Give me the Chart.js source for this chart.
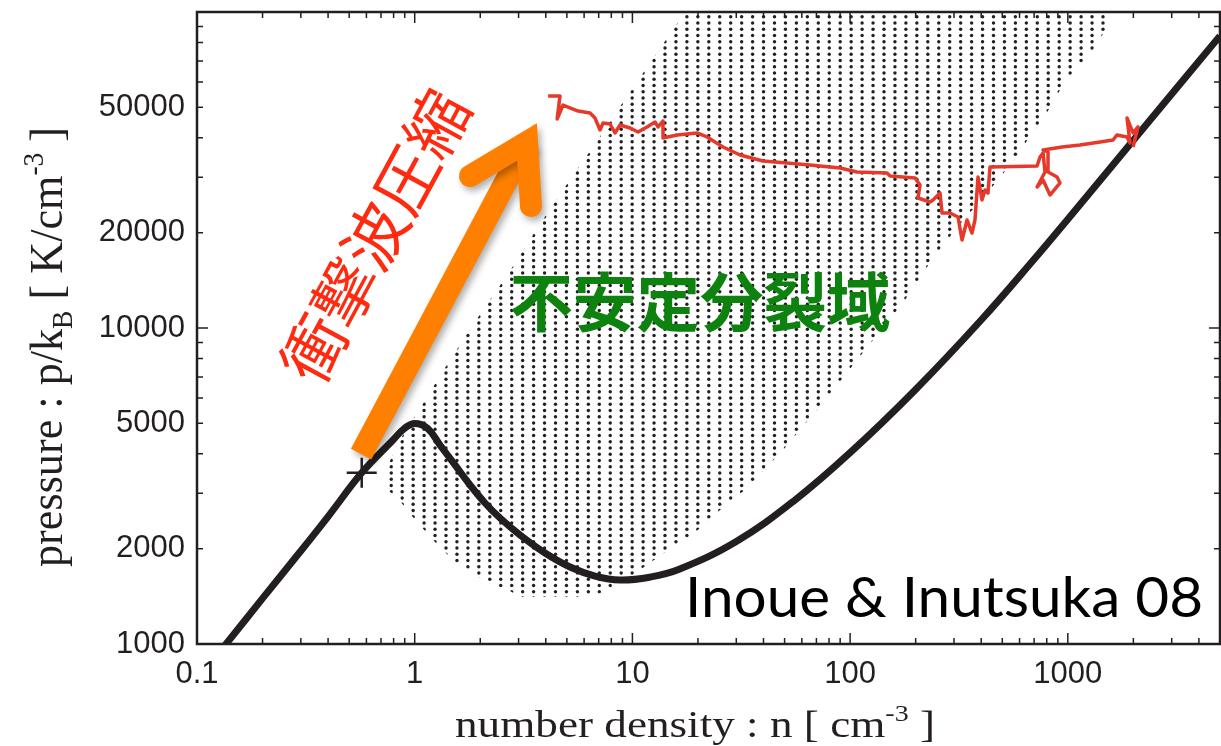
<!DOCTYPE html>
<html><head><meta charset="utf-8">
<script src="https://cdn.jsdelivr.net/npm/chart.js@4/dist/chart.umd.min.js"></script>
<style>html,body{margin:0;padding:0;background:#fff;}#wrap{width:1221px;height:746px;}</style>
</head><body><div id="wrap"><canvas id="c" width="1221" height="746"></canvas></div>
<script>
// ---- data (number density n [cm^-3], pressure p/kB [K cm^-3]) ----
const eqDensity  = [0.1, 0.136, 0.2, 0.297, 0.4, 0.571, 0.795, 0.902, 1.0, 1.139, 1.307, 1.531, 1.795, 2.103, 2.465, 3.045, 3.968, 5.169, 6.733, 8.77, 12, 16.4, 30, 55, 100, 200, 400, 700, 1000, 2000, 5000];
const eqPressure = [770, 1000, 1394, 1954, 2531, 3480, 4422, 4827, 4990, 4827, 4262, 3686, 3186, 2794, 2504, 2213, 1941, 1753, 1641, 1594, 1627, 1724, 2111, 2832, 4031, 6391, 10600, 16500, 22100, 39280, 84030];

const unstableDensity  = [0.754, 0.754, 0.856, 0.951, 1.069, 1.349, 1.702, 2.148, 2.683, 3.421, 4.273, 5.392, 6.733, 8.50, 10.72, 13.53, 17.08, 17.63, 1562, 1530, 1362, 1212, 1079, 960.7, 855, 761, 677.6, 603, 478, 303.3, 240.4, 178.7, 117.1, 76.7, 49.2, 32.9, 27.2, 23.95, 18.78, 13.53, 10.50, 7.56, 5.93, 3.045, 2.741, 2.171, 1.548, 1.214, 0.962, 0.856];
const unstablePressure = [3070, 3686, 4421, 4970, 5623, 7310, 9366, 11910, 14820, 19270, 24330, 30710, 38220, 48610, 61380, 77500, 97840, 100000, 100000, 91620, 78640, 71520, 65530, 59620, 51900, 45190, 41100, 36060, 29400, 20420, 16650, 12260, 8519, 5918, 4111, 3071, 2794, 2560, 2213, 1912, 1690, 1461, 1408, 1408, 1471, 1560, 1804, 2134, 2560, 2835];

const trackDensity  = [4.10, 4.65, 4.51, 4.80, 5.63, 6.39, 6.73, 7.10, 7.33, 7.89, 8.32, 8.77, 9.75, 10.61, 11.67, 12.70, 13.11, 13.82, 13.82, 16.03, 19.81, 22.01, 26.08, 31.22, 39.81, 51.31, 65.42, 89.86, 107.6, 147.7, 152.5, 198.7, 209.5, 205.1, 232.8, 240.4, 258.8, 264.4, 287.6, 313.1, 326.6, 344.4, 362.9, 374.6, 386.7, 403.4, 416.4, 429.8, 439.1, 722.1, 745.4, 769.4, 785.8, 722.1, 769.4, 828.4, 921.0, 892.2, 811.0, 811.0, 769.4, 940.6, 1138, 1406, 1613, 1683, 1870, 1931, 1870, 1993, 2101, 1993];
const trackPressure = [54230, 54230, 45850, 50770, 48600, 47900, 46190, 42330, 44540, 44220, 41420, 43900, 42950, 41720, 43270, 44870, 43270, 45190, 39940, 40820, 41420, 40220, 37390, 35270, 33760, 33280, 32800, 32090, 31170, 30950, 30270, 29830, 28340, 25780, 25040, 25410, 26740, 23110, 23110, 22450, 18990, 21970, 19980, 21970, 30040, 25410, 27330, 26740, 32320, 32560, 34760, 35790, 31170, 27940, 29400, 26350, 28770, 30040, 31170, 36060, 36590, 37390, 37940, 38780, 39350, 40820, 40220, 38500, 46190, 41420, 43270, 37390];

const markerDensity  = [0.571];
const markerPressure = [3480];

// shock-compression arrow: shaft start, head vertex, left arm end, right arm end
const arrowDensity  = [0.567, 3.28, 1.795, 3.42];
const arrowPressure = [3990, 38780, 30270, 24320];

const xTickValues = [0.1, 1, 10, 100, 1000];
const yTickValues = [1000, 2000, 5000, 10000, 20000, 50000];
const xRange = [0.1, 5000];
const yRange = [1000, 100000];

const labelShock = '衝撃波圧縮';
const labelShockAt = [0.657, 19550];
const labelRegion = '不安定分裂域';
const labelRegionAt = [20.44, 12090];
const labelRef = 'Inoue & Inutsuka 08';
const labelRefAt = [4180, 1217];

// ---- helpers ----
const toXY = (xs, ys) => xs.map((v, i) => ({x: v, y: ys[i]}));
const INK = '#231f20';

const canvas = document.getElementById('c');
const ctx0 = canvas.getContext('2d');
// dot-screen texture for the unstable region (style only)
const tile = document.createElement('canvas');
tile.width = 219; tile.height = 25;
const tctx = tile.getContext('2d');
tctx.fillStyle = INK;
for (let i = 0; i < 20; i++) for (let j = 0; j < 4; j++) {
  tctx.beginPath(); tctx.arc(8.0 + i * 10.95, 4.2 + j * 6.25, 1.7, 0, Math.PI * 2); tctx.fill();
}
const dotPattern = ctx0.createPattern(tile, 'repeat');

function minorTicks(min, max) {
  const out = [];
  for (let e = Math.floor(Math.log10(min)); e <= Math.ceil(Math.log10(max)); e++)
    for (let m = 1; m <= 9; m++) {
      const v = m * Math.pow(10, e);
      if (v >= min * 0.999 && v <= max * 1.001) out.push({v, major: m === 1});
    }
  return out;
}

function drawRich(ctx, segs, size, family, target) {
  let total = 0;
  for (const s of segs) {
    const fs = s.mode === 'n' ? size : size * 0.62;
    ctx.font = fs + 'px ' + family;
    s.w = ctx.measureText(s.t).width; s.fs = fs; total += s.w;
  }
  const sx = target / total;
  ctx.save();
  ctx.scale(sx, 1);
  let cx = -total / 2;
  ctx.textBaseline = 'alphabetic'; ctx.textAlign = 'left';
  for (const s of segs) {
    ctx.font = s.fs + 'px ' + family;
    const dy = s.mode === 'sub' ? size * 0.22 : (s.mode === 'sup' ? -size * 0.42 : 0);
    ctx.fillText(s.t, cx, dy);
    cx += s.w;
  }
  ctx.restore();
}

const zeroPad = s => { s.paddingTop = 0; s.paddingBottom = 0; s.paddingLeft = 0; s.paddingRight = 0; };

const decor = {
  id: 'decor',
  afterDatasetsDraw(chart) {
    const {ctx, chartArea: a, scales: {x, y}} = chart;
    const P = (n, p) => [x.getPixelForValue(n), y.getPixelForValue(p)];
    ctx.save();
    ctx.beginPath(); ctx.rect(a.left, a.top, a.right - a.left, a.bottom - a.top); ctx.clip();

    const s0 = P(arrowDensity[0], arrowPressure[0]);
    const v = P(arrowDensity[1], arrowPressure[1]);
    const l = P(arrowDensity[2], arrowPressure[2]);
    const r = P(arrowDensity[3], arrowPressure[3]);
    ctx.shadowColor = 'rgba(0,0,0,0.32)'; ctx.shadowBlur = 7; ctx.shadowOffsetX = 3; ctx.shadowOffsetY = 4;
    ctx.strokeStyle = '#ff8000'; ctx.lineWidth = 23;
    ctx.lineCap = 'butt';
    ctx.beginPath(); ctx.moveTo(s0[0], s0[1]); ctx.lineTo(v[0], v[1]); ctx.stroke();
    ctx.lineCap = 'round'; ctx.lineJoin = 'miter'; ctx.lineWidth = 22;
    ctx.beginPath(); ctx.moveTo(l[0], l[1]); ctx.lineTo(v[0], v[1]); ctx.lineTo(r[0], r[1]); ctx.stroke();
    ctx.shadowColor = 'transparent';

    const ps = P(labelShockAt[0], labelShockAt[1]);
    ctx.save();
    ctx.translate(ps[0], ps[1]); ctx.rotate(-61.5 * Math.PI / 180);
    ctx.font = '400 64px "Noto Sans CJK JP"'; ctx.fillStyle = '#ff2b10';
    ctx.textAlign = 'center'; ctx.textBaseline = 'middle';
    ctx.fillText(labelShock, 0, 0);
    ctx.restore();

    const pr = P(labelRegionAt[0], labelRegionAt[1]);
    ctx.font = 'bold 63.5px "Noto Sans CJK JP"'; ctx.fillStyle = '#0e820e';
    ctx.textAlign = 'center'; ctx.textBaseline = 'middle';
    ctx.fillText(labelRegion, pr[0], pr[1]);

    const pf = P(labelRefAt[0], labelRefAt[1]);
    ctx.font = '56px Lato'; ctx.fillStyle = '#000';
    const w = ctx.measureText(labelRef).width;
    ctx.save(); ctx.translate(pf[0], pf[1]); ctx.scale(518 / w, 1);
    ctx.textAlign = 'right'; ctx.textBaseline = 'alphabetic';
    ctx.fillText(labelRef, 0, 0);
    ctx.restore();
    ctx.restore();
  },
  afterDraw(chart) {
    const {ctx, chartArea: a, scales: {x, y}} = chart;
    ctx.save();
    ctx.strokeStyle = INK; ctx.lineWidth = 1.5;
    for (const t of minorTicks(xRange[0], xRange[1])) {
      const px = x.getPixelForValue(t.v), len = t.major ? 11 : 6;
      ctx.beginPath(); ctx.moveTo(px, a.bottom); ctx.lineTo(px, a.bottom - len);
      ctx.moveTo(px, a.top); ctx.lineTo(px, a.top + len); ctx.stroke();
    }
    for (const t of minorTicks(yRange[0], yRange[1])) {
      const py = y.getPixelForValue(t.v), len = t.major ? 11 : 6;
      ctx.beginPath(); ctx.moveTo(a.left, py); ctx.lineTo(a.left + len, py);
      ctx.moveTo(a.right, py); ctx.lineTo(a.right - len, py); ctx.stroke();
    }
    ctx.lineWidth = 2.5;
    ctx.strokeRect(a.left, a.top, a.right - a.left, a.bottom - a.top);

    ctx.fillStyle = INK;
    ctx.save();
    ctx.translate(695, 737);
    drawRich(ctx, [{t: 'number density : n [ cm', mode: 'n'}, {t: '-3', mode: 'sup'}, {t: ' ]', mode: 'n'}], 37, '"Liberation Serif"', 480);
    ctx.restore();
    ctx.save();
    ctx.translate(62, 347); ctx.rotate(-Math.PI / 2);
    drawRich(ctx, [{t: 'pressure : p/k', mode: 'n'}, {t: 'B', mode: 'sub'}, {t: ' [ K/cm', mode: 'n'}, {t: '-3', mode: 'sup'}, {t: ' ]', mode: 'n'}], 46, '"Liberation Serif"', 440);
    ctx.restore();
    ctx.restore();
  }
};

new Chart(canvas, {
  type: 'scatter',
  data: {
    datasets: [
      {label: 'unstable', data: toXY(unstableDensity, unstablePressure), showLine: true, borderWidth: 0,
       borderColor: 'rgba(0,0,0,0)', pointRadius: 0, fill: 'shape', backgroundColor: dotPattern, order: 4, tension: 0},
      {label: 'equilibrium', data: toXY(eqDensity, eqPressure), showLine: true, borderColor: INK, borderWidth: 7,
       pointRadius: 0, tension: 0.4, order: 3, fill: false},
      {label: 'track', data: toXY(trackDensity, trackPressure), showLine: true, borderColor: '#e53a2b', borderWidth: 3.5,
       borderJoinStyle: 'round', pointRadius: 0, tension: 0, order: 2, fill: false},
      {label: 'start', data: toXY(markerDensity, markerPressure), showLine: false, pointStyle: 'cross', pointRadius: 15,
       borderColor: INK, borderWidth: 2.5, order: 1}
    ]
  },
  options: {
    responsive: false, animation: false, devicePixelRatio: 1, events: [],
    layout: {autoPadding: false, padding: {top: 12, right: 1, bottom: 0, left: 0}},
    plugins: {legend: {display: false}, tooltip: {enabled: false}},
    scales: {
      x: {type: 'logarithmic', position: 'bottom', min: xRange[0], max: xRange[1],
          afterBuildTicks: s => { s.ticks = xTickValues.map(v => ({value: v})); },
          afterFit: s => { s.height = 102; zeroPad(s); },
          grid: {display: false, drawTicks: false}, border: {display: false},
          ticks: {autoSkip: false, maxRotation: 0, minRotation: 0, padding: 12, color: INK,
                  font: {family: '"Liberation Sans"', size: 31}, callback: v => String(v)}},
      y: {type: 'logarithmic', position: 'left', min: yRange[0], max: yRange[1],
          afterBuildTicks: s => { s.ticks = yTickValues.map(v => ({value: v})); },
          afterFit: s => { s.width = 197; zeroPad(s); },
          grid: {display: false, drawTicks: false}, border: {display: false},
          ticks: {autoSkip: false, padding: 12, color: INK,
                  font: {family: '"Liberation Sans"', size: 31}, callback: v => String(v)}}
    }
  },
  plugins: [decor]
});
</script>
</body></html>
